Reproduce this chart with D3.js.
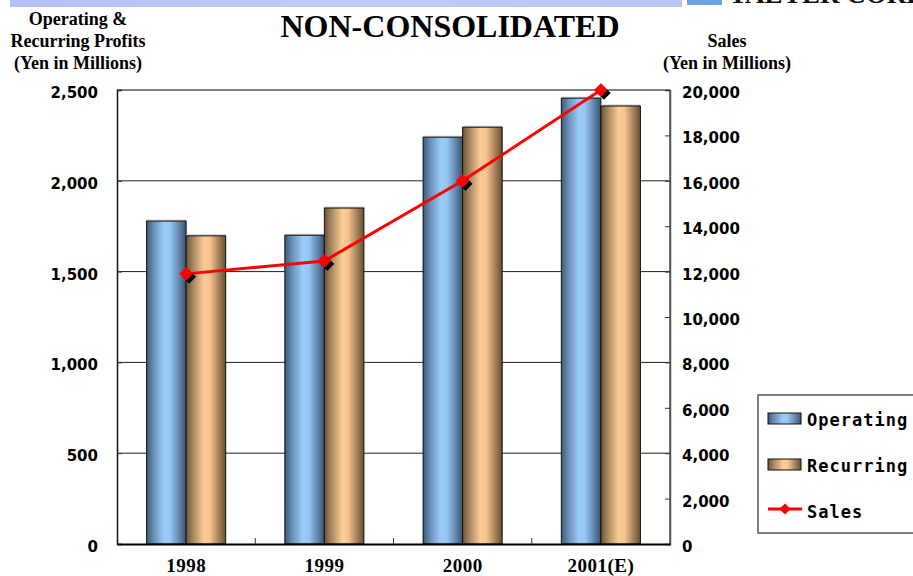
<!DOCTYPE html>
<html><head><meta charset="utf-8">
<script src="https://cdn.jsdelivr.net/npm/d3@7"></script>
<style>body{margin:0;background:#fff;overflow:hidden}svg{display:block}</style>
</head><body><svg id="c" width="913" height="576"></svg>
<script>
const categories = ["1998", "1999", "2000", "2001(E)"];
const operating = [1778, 1700, 2240, 2455];
const recurring = [1697, 1850, 2295, 2412];
const sales = [11900, 12470, 16000, 20000];
const leftTicks = [0, 500, 1000, 1500, 2000, 2500];
const rightTicks = [0, 2000, 4000, 6000, 8000, 10000, 12000, 14000, 16000, 18000, 20000];
const seriesNames = ["Operating", "Recurring", "Sales"];

const svg = d3.select("#c");
const L = 117, R = 670, T = 90, B = 544;
const x = d3.scaleBand().domain(categories).range([L, R]).padding(0);
const yL = d3.scaleLinear().domain([0, 2500]).range([B, T]);
const yR = d3.scaleLinear().domain([0, 20000]).range([B, T]);
const fmt = d3.format(",");

const defs = svg.append("defs");
function grad(id, stops) {
  const g = defs.append("linearGradient").attr("id", id).attr("x1", "0").attr("x2", "1").attr("y1", "0").attr("y2", "0");
  stops.forEach(s => g.append("stop").attr("offset", s[0]).attr("stop-color", s[1]));
}
grad("gBlue", [[0, "#3e5878"], [0.18, "#6a8fb8"], [0.45, "#9ccbf8"], [0.6, "#96c6f4"], [0.85, "#5f7fa6"], [1, "#3a5270"]]);
grad("gOrange", [[0, "#6e5538"], [0.18, "#a88862"], [0.45, "#fccb97"], [0.6, "#f7c38f"], [0.85, "#9c7a55"], [1, "#684f33"]]);
grad("gBanner", [[0, "#b2c0f6"], [0.5, "#c0ccf8"], [1, "#b8c6f8"]]);

// top banner
svg.append("rect").attr("x", 10).attr("y", 0).attr("width", 672).attr("height", 7).attr("fill", "url(#gBanner)");
svg.append("rect").attr("x", 687).attr("y", 0).attr("width", 35).attr("height", 5).attr("fill", "#6aa4dc");
svg.append("text").attr("x", 729).attr("y", 3).attr("font-family", "Liberation Serif").attr("font-weight", "bold")
  .attr("font-size", 27).attr("fill", "#111").text("TAEYER CORP");

// titles
svg.append("text").attr("x", 450).attr("y", 37).attr("text-anchor", "middle").attr("font-family", "Liberation Serif")
  .attr("font-weight", "bold").attr("font-size", 32).text("NON-CONSOLIDATED");
const lt = svg.append("text").attr("text-anchor", "middle").attr("font-family", "Liberation Serif").attr("font-weight", "bold").attr("font-size", 18);
[["Operating &", 25], ["Recurring Profits", 47], ["(Yen in Millions)", 69]].forEach(d => lt.append("tspan").attr("x", 78).attr("y", d[1]).text(d[0]));
const rt = svg.append("text").attr("text-anchor", "middle").attr("font-family", "Liberation Serif").attr("font-weight", "bold").attr("font-size", 18);
[["Sales", 47], ["(Yen in Millions)", 69]].forEach(d => rt.append("tspan").attr("x", 727).attr("y", d[1]).text(d[0]));

// gridlines
svg.append("g").selectAll("line").data(leftTicks.filter(t => t > 0 && t < 2500)).join("line")
  .attr("x1", L).attr("x2", R).attr("y1", d => yL(d)).attr("y2", d => yL(d)).attr("stroke", "#222").attr("stroke-width", 1);

// bars
const bw = x.bandwidth() * 0.286;
const gb = svg.append("g");
categories.forEach((c, i) => {
  const cx = x(c) + x.bandwidth() / 2;
  [[operating[i], "url(#gBlue)", cx - bw], [recurring[i], "url(#gOrange)", cx]].forEach(b => {
    gb.append("rect").attr("x", b[2]).attr("y", yL(b[0]) - 1.5).attr("width", bw).attr("height", 1.5).attr("fill", "#c8c8c8");
    gb.append("rect").attr("x", b[2]).attr("y", yL(b[0])).attr("width", bw).attr("height", B - yL(b[0]))
      .attr("fill", b[1]).attr("stroke", "#111").attr("stroke-width", 1);
  });
});

// plot border
svg.append("line").attr("x1", L).attr("x2", R).attr("y1", T).attr("y2", T).attr("stroke", "#555").attr("stroke-width", 1.5);
svg.append("line").attr("x1", R).attr("x2", R).attr("y1", T).attr("y2", B).attr("stroke", "#555").attr("stroke-width", 1.5);

// axes
const axL = svg.append("g").attr("transform", `translate(${L},0)`)
  .call(d3.axisLeft(yL).tickValues(leftTicks).tickSize(-5).tickPadding(19).tickFormat(fmt));
const axR = svg.append("g").attr("transform", `translate(${R},0)`)
  .call(d3.axisRight(yR).tickValues(rightTicks).tickSize(-5).tickPadding(12).tickFormat(fmt));
[axL, axR].forEach(a => {
  a.select(".domain").attr("stroke", "#111").attr("stroke-width", 1.5);
  a.selectAll(".tick line").attr("stroke", "#333");
  a.selectAll("text").attr("font-family", "DejaVu Sans").attr("font-weight", "bold").attr("font-size", 15)
    .attr("fill", "#000").attr("dy", "0.5em");
});
axR.select(".domain").attr("stroke", "#555");
const axB = svg.append("g").attr("transform", `translate(0,${B})`)
  .call(d3.axisBottom(x).tickSize(0).tickPadding(15));
axB.select(".domain").attr("stroke", "#000").attr("stroke-width", 2);
axB.selectAll("text").attr("font-family", "Liberation Serif").attr("font-weight", "bold").attr("font-size", 19)
  .attr("letter-spacing", 0.5).attr("fill", "#000");
// category separator ticks
svg.append("g").selectAll("line").data(categories.slice(1)).join("line")
  .attr("x1", d => x(d)).attr("x2", d => x(d)).attr("y1", B).attr("y2", B - 6).attr("stroke", "#333");

// sales line
const sx = (d, i) => x(categories[i]) + x.bandwidth() / 2;
svg.append("path").datum(sales).attr("fill", "none").attr("stroke", "#ff0000").attr("stroke-width", 3)
  .attr("d", d3.line().x(sx).y(d => yR(d)));
const diamond = d3.symbol().type(d3.symbolDiamond2).size(120);
svg.append("g").selectAll("path").data(sales).join("path")
  .attr("transform", (d, i) => `translate(${sx(d, i) + 3},${yR(d) + 3})`).attr("d", diamond).attr("fill", "#000");
svg.append("g").selectAll("path").data(sales).join("path")
  .attr("transform", (d, i) => `translate(${sx(d, i)},${yR(d)})`).attr("d", diamond).attr("fill", "#ff0000");

// legend
svg.append("rect").attr("x", 758).attr("y", 395).attr("width", 170).attr("height", 138).attr("fill", "#fff").attr("stroke", "#555").attr("stroke-width", 1.5);
const lg = svg.append("g");
const ly = [419, 465, 511];
lg.append("rect").attr("x", 768).attr("y", ly[0] - 6).attr("width", 33).attr("height", 11).attr("fill", "url(#gBlue)").attr("stroke", "#111");
lg.append("rect").attr("x", 768).attr("y", ly[1] - 6).attr("width", 33).attr("height", 11).attr("fill", "url(#gOrange)").attr("stroke", "#111");
lg.append("line").attr("x1", 768).attr("x2", 802).attr("y1", ly[2] - 2).attr("y2", ly[2] - 2).attr("stroke", "#ff0000").attr("stroke-width", 3);
lg.append("path").attr("transform", `translate(785,${ly[2] - 2})`).attr("d", d3.symbol().type(d3.symbolDiamond2).size(80)).attr("fill", "#ff0000");
lg.selectAll("text").data(seriesNames).join("text").attr("x", 807).attr("y", (d, i) => ly[i] + 7)
  .attr("font-family", "DejaVu Sans Mono").attr("font-weight", "bold").attr("font-size", 17).attr("letter-spacing", 1).text(d => d);
</script></body></html>
